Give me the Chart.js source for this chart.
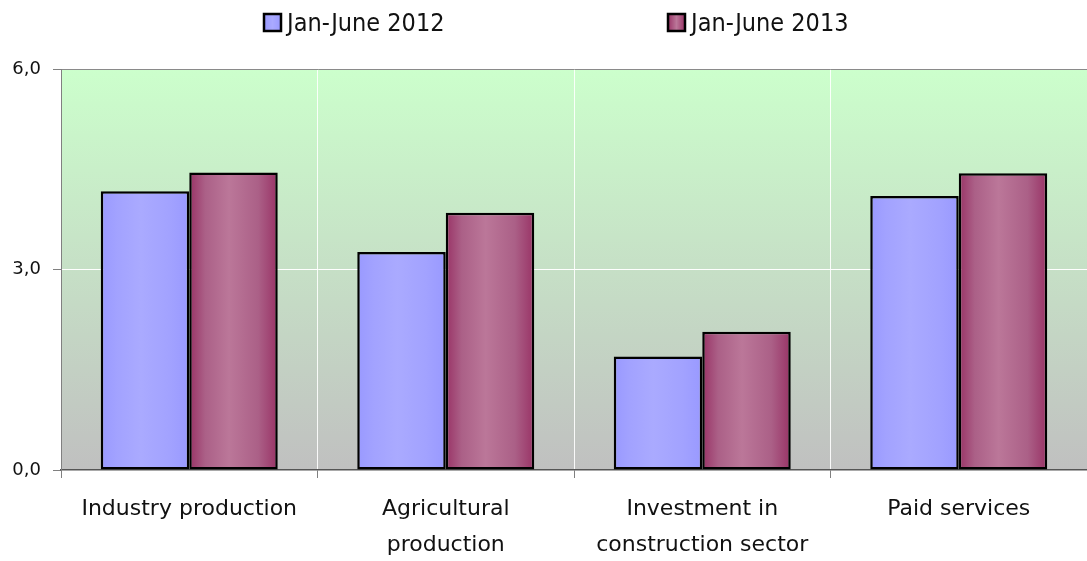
<!DOCTYPE html>
<html>
<head>
<meta charset="utf-8">
<script src="https://cdn.jsdelivr.net/npm/chart.js@4.4.0/dist/chart.umd.min.js"></script>
<style>
  html, body { margin: 0; padding: 0; background: #fff; }
  #wrap { width: 1087px; height: 561px; }
</style>
</head>
<body>
<div id="wrap"><canvas id="growthChart" width="1087" height="561"></canvas></div>
<script>
const categories = [
    'Industry production',
    ['Agricultural', 'production'],
    ['Investment in', 'construction sector'],
    'Paid services'
];
const seriesNames = ['Jan-June 2012', 'Jan-June 2013'];
const values2012 = [4.17, 3.26, 1.70, 4.10];
const values2013 = [4.45, 3.85, 2.07, 4.44];
const yTicks = [0, 3, 6];

// edge, mid, centre colours of the cylinder-like shading
const barShades = [
    ['#9999ff', '#a2a2ff', '#aaaaff'],
    ['#993366', '#ab6087', '#bb7799']
];
const CAT_PCT = 0.69;

function barFill(ctx) {
    const chart = ctx.chart;
    const xs = chart.scales.x;
    const shade = barShades[ctx.datasetIndex];
    if (!chart.chartArea || !xs || ctx.dataIndex === undefined) return shade[2];
    const center = xs.getPixelForValue(ctx.dataIndex);
    const bw = (xs.width / categories.length) * CAT_PCT / 2;
    const left = ctx.datasetIndex === 0 ? center - bw : center;
    const g = chart.ctx.createLinearGradient(left, 0, left + bw, 0);
    g.addColorStop(0, shade[0]);
    g.addColorStop(0.18, shade[1]);
    g.addColorStop(0.45, shade[2]);
    g.addColorStop(0.78, shade[1]);
    g.addColorStop(1, shade[0]);
    return g;
}

const plotBackground = {
    id: 'plotBackground',
    beforeDraw(chart) {
        const a = chart.chartArea;
        const c = chart.ctx;
        const g = c.createLinearGradient(0, a.top, 0, a.bottom);
        g.addColorStop(0, '#ccffcc');
        g.addColorStop(1, '#c0c0c0');
        c.save();
        c.fillStyle = g;
        c.fillRect(a.left, a.top, a.right - a.left, a.bottom - a.top);
        c.restore();
    }
};

const topLegend = {
    id: 'topLegend',
    afterDraw(chart) {
        const c = chart.ctx;
        const spots = [264, 668];
        c.save();
        c.font = "25px 'DejaVu Sans Condensed', 'Liberation Sans Narrow', sans-serif";
        c.textBaseline = 'middle';
        chart.data.datasets.forEach((ds, i) => {
            const x = spots[i];
            const g = c.createLinearGradient(x, 0, x + 17, 0);
            g.addColorStop(0, barShades[i][0]);
            g.addColorStop(0.5, barShades[i][2]);
            g.addColorStop(1, barShades[i][0]);
            c.fillStyle = g;
            c.fillRect(x, 14, 17, 17);
            c.lineWidth = 2.5;
            c.strokeStyle = '#000';
            c.strokeRect(x, 14, 17, 17);
            c.fillStyle = '#111';
            c.fillText(ds.label, x + 23, 24);
        });
        c.restore();
    }
};

function makeDataset(label, data) {
    return {
        label: label,
        data: data,
        backgroundColor: barFill,
        borderColor: '#000',
        borderWidth: 2.5,
        borderSkipped: false,
        categoryPercentage: CAT_PCT,
        barPercentage: 1.0
    };
}

new Chart(document.getElementById('growthChart'), {
    type: 'bar',
    data: {
        labels: categories,
        datasets: [
            makeDataset(seriesNames[0], values2012),
            makeDataset(seriesNames[1], values2013)
        ]
    },
    options: {
        responsive: false,
        animation: false,
        layout: { padding: { top: 69, right: 0, left: 0, bottom: 0 } },
        plugins: {
            legend: { display: false },
            tooltip: { enabled: false }
        },
        scales: {
            x: {
                afterFit: s => { s.height = 91; },
                grid: {
                    offset: true,
                    color: 'rgba(255,255,255,0.9)',
                    tickColor: '#808080',
                    tickLength: 8,
                    lineWidth: 1
                },
                border: { color: '#555', width: 1.5 },
                ticks: {
                    color: '#111',
                    padding: 14,
                    maxRotation: 0,
                    autoSkip: false,
                    font: { family: "'DejaVu Sans', sans-serif", size: 22, lineHeight: 1.6 }
                }
            },
            y: {
                min: 0,
                max: 6,
                afterFit: s => { s.width = 61; },
                afterBuildTicks: s => { s.ticks = yTicks.map(v => ({ value: v })); },
                grid: {
                    color: c => c.tick && c.tick.value === 6 ? '#8a8a8a' : (c.tick && c.tick.value === 3 ? '#ffffff' : 'rgba(0,0,0,0)'),
                    tickColor: '#808080',
                    tickLength: 8
                },
                border: { color: '#808080', width: 1 },
                ticks: {
                    color: '#111',
                    padding: 12,
                    font: { family: "'DejaVu Sans', sans-serif", size: 18 },
                    callback: v => v.toFixed(1).replace('.', ',')
                }
            }
        }
    },
    plugins: [plotBackground, topLegend]
});
</script>
</body>
</html>
